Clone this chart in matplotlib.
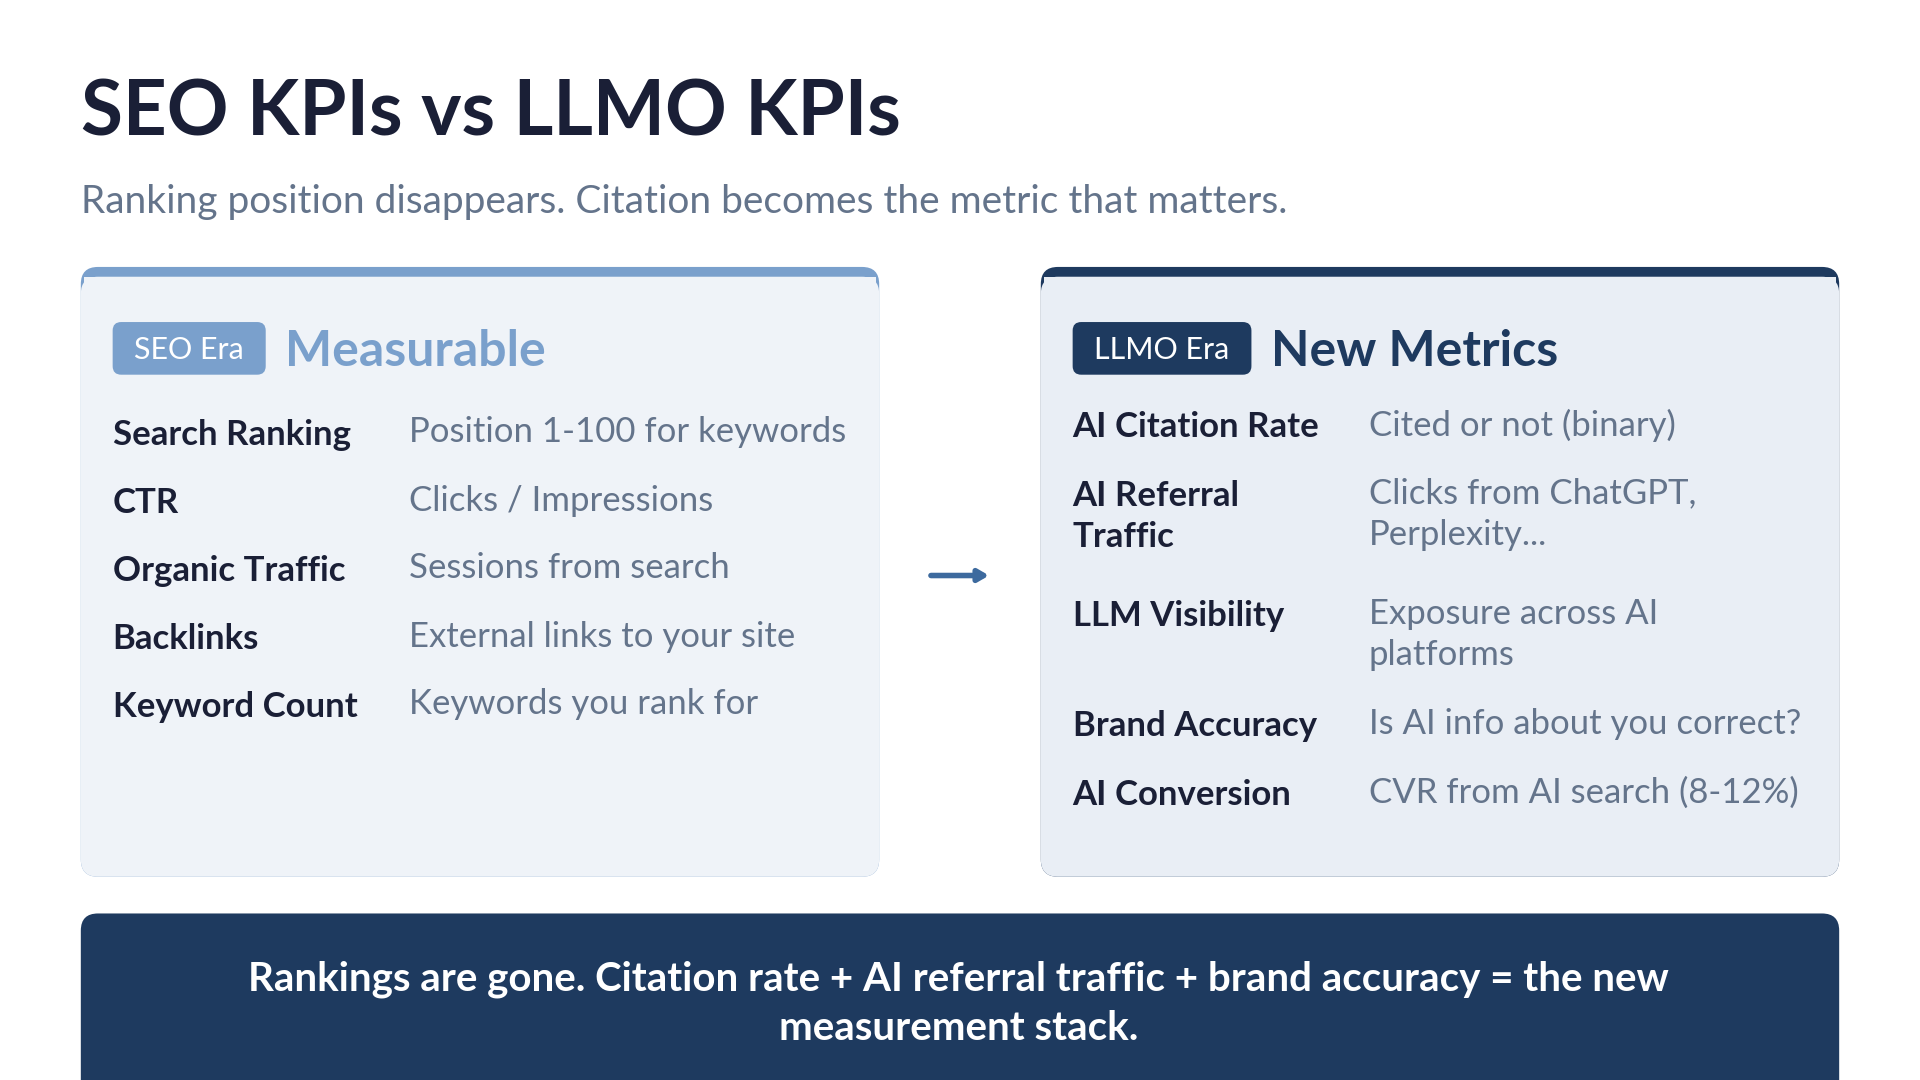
import matplotlib
matplotlib.use("Agg")
import matplotlib.pyplot as plt
from matplotlib.patches import FancyBboxPatch, Rectangle

plt.rcParams['font.family'] = ['Lato', 'DejaVu Sans']

title = "SEO KPIs vs LLMO KPIs"
subtitle = "Ranking position disappears. Citation becomes the metric that matters."
seo_badge, seo_head = "SEO Era", "Measurable"
llmo_badge, llmo_head = "LLMO Era", "New Metrics"
seo_names = ["Search Ranking", "CTR", "Organic Traffic", "Backlinks", "Keyword Count"]
seo_descs = ["Position 1-100 for keywords", "Clicks / Impressions", "Sessions from search",
             "External links to your site", "Keywords you rank for"]
llmo_names = ["AI Citation Rate", "AI Referral\nTraffic", "LLM Visibility", "Brand Accuracy", "AI Conversion"]
llmo_descs = ["Cited or not (binary)", "Clicks from ChatGPT,\nPerplexity...", "Exposure across AI\nplatforms",
              "Is AI info about you correct?", "CVR from AI search (8-12%)"]
banner = "Rankings are gone. Citation rate + AI referral traffic + brand accuracy = the new\nmeasurement stack."

W, H = 1568, 882
fig = plt.figure(figsize=(19.2, 10.8), dpi=100)
ax = fig.add_axes([0, 0, 1, 1])
ax.set_xlim(0, W); ax.set_ylim(H, 0); ax.axis('off')
fig.patch.set_facecolor('white')

DARK = '#1a1f36'; GRAY = '#64748b'; LIGHT = '#7aa0cc'; NAVY = '#1e3a5f'

ax.text(66, 93, title, fontsize=55, fontweight='bold', color=DARK, va='center')
ax.text(66, 165, subtitle, fontsize=28, color=GRAY, va='center')

def card(x0, x1, border, fill):
    ax.add_patch(FancyBboxPatch((x0, 218), x1 - x0, 498, boxstyle="round,pad=0,rounding_size=14",
                                fc=border, ec='none'))
    ax.add_patch(FancyBboxPatch((x0, 226), x1 - x0, 490, boxstyle="round,pad=0,rounding_size=14",
                                fc=fill, ec='none'))
    ax.add_patch(Rectangle((x0 + 3, 226), x1 - x0 - 6, 20, fc=fill, ec='none'))

def badge(x0, w, text, color, head, hcolor):
    ax.add_patch(FancyBboxPatch((x0, 263), w, 43, boxstyle="round,pad=0,rounding_size=7",
                                fc=color, ec='none'))
    ax.text(x0 + w / 2, 286, text, fontsize=22, color='white', ha='center', va='center')
    ax.text(x0 + w + 16, 287, head, fontsize=36, fontweight='bold', color=hcolor, va='center')

card(66, 718, LIGHT, '#eff3f8')
card(850, 1502, NAVY, '#e9eef5')
badge(92, 125, seo_badge, LIGHT, seo_head, LIGHT)
badge(876, 146, llmo_badge, NAVY, llmo_head, NAVY)

seo_y = [355, 411, 466, 522, 577]
for y, n, d in zip(seo_y, seo_names, seo_descs):
    ax.text(92, y, n, fontsize=25, fontweight='bold', color=DARK, va='center')
    ax.text(334, y - 2, d, fontsize=25, color=GRAY, va='center')

llmo_y = [355, 411, 509, 599, 655]
for y, n, d in zip(llmo_y, llmo_names, llmo_descs):
    ax.text(876, y - 19, n, fontsize=25, fontweight='bold', color=DARK, va='top', linespacing=1.35)
    ax.text(1118, y - 21, d, fontsize=25, color=GRAY, va='top', linespacing=1.35)

ax.annotate('', xy=(810, 470), xytext=(758, 470),
            arrowprops=dict(arrowstyle='-|>,head_length=0.6,head_width=0.35', lw=4, color='#3d6a9e'))

ax.add_patch(FancyBboxPatch((66, 746), 1436, 160, boxstyle="round,pad=0,rounding_size=14",
                            fc=NAVY, ec='none'))
ax.text(783, 820, banner, fontsize=29, fontweight='bold', color='white', ha='center', va='center',
        linespacing=1.4)

fig.savefig('out.png', dpi=100, facecolor='white')
